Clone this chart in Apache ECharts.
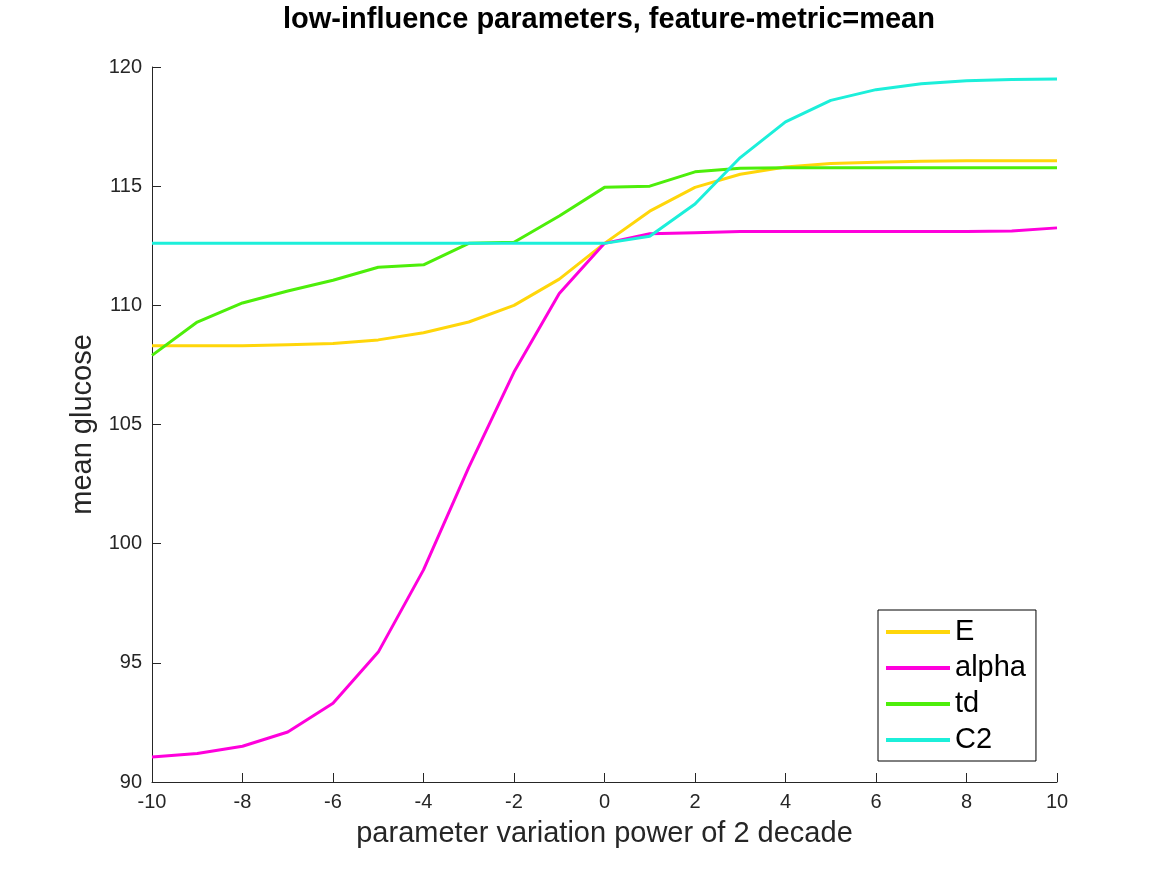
<!DOCTYPE html>
<html>
<head>
<meta charset="utf-8">
<script src="https://cdn.jsdelivr.net/npm/echarts@6/dist/echarts.min.js"></script>
<style>
html, body { margin: 0; padding: 0; background: #fff; }
#main { width: 1167px; height: 875px; }
</style>
</head>
<body>
<div id="main"></div>
<script>
// data
var xPower = [-10, -9, -8, -7, -6, -5, -4, -3, -2, -1, 0, 1, 2, 3, 4, 5, 6, 7, 8, 9, 10];
var valE = [108.3, 108.3, 108.3, 108.35, 108.4, 108.55, 108.85, 109.3, 110.0, 111.1, 112.6, 113.95, 114.95, 115.5, 115.8, 115.95, 116.0, 116.05, 116.07, 116.07, 116.07];
var valAlpha = [91.05, 91.2, 91.5, 92.1, 93.3, 95.45, 98.9, 103.2, 107.2, 110.5, 112.6, 113.0, 113.05, 113.1, 113.1, 113.1, 113.1, 113.1, 113.1, 113.12, 113.25];
var valTd = [107.9, 109.3, 110.1, 110.6, 111.05, 111.6, 111.7, 112.6, 112.65, 113.75, 114.95, 115.0, 115.6, 115.75, 115.77, 115.77, 115.77, 115.77, 115.77, 115.77, 115.77];
var valC2 = [112.6, 112.6, 112.6, 112.6, 112.6, 112.6, 112.6, 112.6, 112.6, 112.6, 112.6, 112.9, 114.25, 116.2, 117.7, 118.6, 119.05, 119.3, 119.42, 119.48, 119.5];

var seriesNames = ['E', 'alpha', 'td', 'C2'];
var seriesValues = [valE, valAlpha, valTd, valC2];
var seriesColors = ['#FFD60A', '#FF00DC', '#4DEE0A', '#1CEFDA'];

function pairs(vals) {
    return xPower.map(function (x, i) { return [x, vals[i]]; });
}

var myChart = echarts.init(document.getElementById('main'));
var fontFam = '"Liberation Sans", Arial, Helvetica, sans-serif';

option = {
    backgroundColor: '#fff',
    animation: false,
    title: {
        text: 'low-influence parameters, feature-metric=mean',
        left: 604,
        top: 0,
        textAlign: 'center',
        textStyle: {
            fontFamily: fontFam,
            fontSize: 29,
            fontWeight: 'bold',
            color: '#000'
        }
    },
    grid: {
        left: 152,
        right: 110,
        top: 67,
        bottom: 93,
        containLabel: false
    },
    legend: {
        orient: 'vertical',
        left: 878,
        top: 610,
        data: seriesNames,
        icon: 'rect',
        itemWidth: 64,
        itemHeight: 4,
        itemGap: 6,
        padding: [7, 10, 6, 8],
        borderColor: '#000',
        borderWidth: 1,
        backgroundColor: '#fff',
        textStyle: {
            fontFamily: fontFam,
            fontSize: 29,
            color: '#000',
            lineHeight: 30
        }
    },
    xAxis: {
        type: 'value',
        min: -10,
        max: 10,
        interval: 2,
        name: 'parameter variation power of 2 decade',
        nameLocation: 'middle',
        nameGap: 37,
        nameTextStyle: { fontFamily: fontFam, fontSize: 29, color: '#262626' },
        axisLine: { onZero: false, lineStyle: { color: '#262626', width: 1 } },
        axisTick: { inside: true, length: 9, lineStyle: { color: '#262626' } },
        axisLabel: { fontFamily: fontFam, fontSize: 20, color: '#262626', margin: 10 },
        splitLine: { show: false }
    },
    yAxis: {
        type: 'value',
        min: 90,
        max: 120,
        interval: 5,
        name: 'mean glucose',
        nameLocation: 'middle',
        nameGap: 45,
        nameTextStyle: { fontFamily: fontFam, fontSize: 29, color: '#262626' },
        axisLine: { show: true, onZero: false, lineStyle: { color: '#262626', width: 1 } },
        axisTick: { show: true, inside: true, length: 9, lineStyle: { color: '#262626' } },
        axisLabel: { fontFamily: fontFam, fontSize: 20, color: '#262626', margin: 10 },
        splitLine: { show: false }
    },
    series: seriesNames.map(function (name, i) {
        return {
            name: name,
            type: 'line',
            data: pairs(seriesValues[i]),
            showSymbol: false,
            symbol: 'none',
            color: seriesColors[i],
            lineStyle: { width: 3, color: seriesColors[i] }
        };
    })
};

myChart.setOption(option);

window.onresize = function () {
    myChart.resize();
};
</script>
</body>
</html>
